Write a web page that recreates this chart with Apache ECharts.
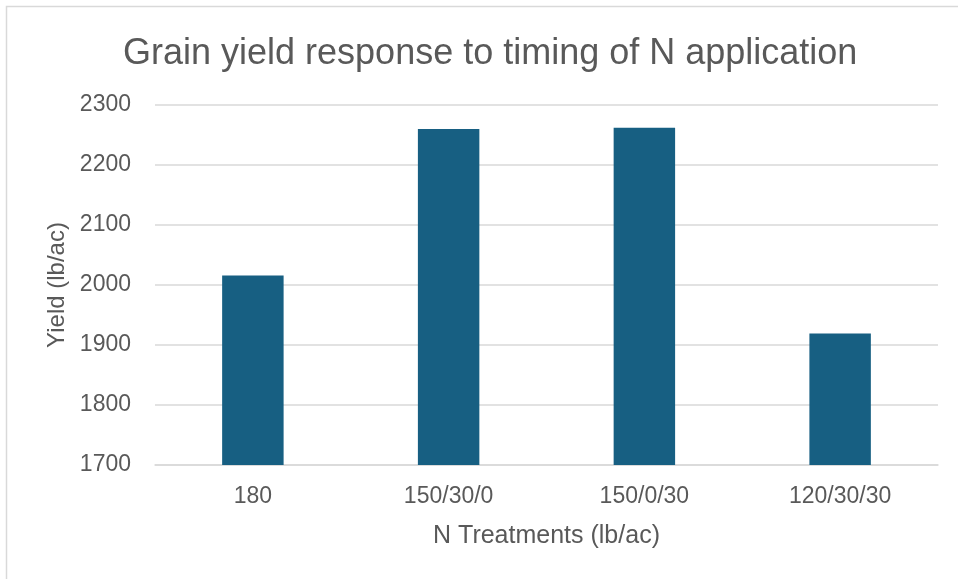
<!DOCTYPE html>
<html><head><meta charset="utf-8">
<script src="https://cdn.jsdelivr.net/npm/echarts@6/dist/echarts.min.js"></script>
<style>html,body{margin:0;padding:0;background:#fff}#c{width:958px;height:579px}</style>
</head><body><div id="c"></div>
<script>
const titleText = 'Grain yield response to timing of N application';
const categories = ['180', '150/30/0', '150/0/30', '120/30/30'];
const yieldValues = [2016, 2260, 2262, 1919];
const yTicks = {min: 1700, max: 2300, interval: 100};
const xAxisName = 'N Treatments (lb/ac)';
const yAxisName = 'Yield (lb/ac)';

const chart = echarts.init(document.getElementById('c'));
const txt = '#595959';
const font = "'Liberation Sans', Arial, sans-serif";
chart.setOption({
  animation: false,
  graphic: [{type: 'rect', shape: {x: 6.5, y: 6.5, width: 1000, height: 1000}, style: {fill: 'none', stroke: '#d9d9d9', lineWidth: 1.5}, silent: true}],
  title: {text: titleText, left: 118, top: 31, textStyle: {color: txt, fontSize: 36, fontWeight: 'normal', fontFamily: font}},
  grid: {left: 155, right: 20, top: 105, bottom: 114},
  xAxis: {
    type: 'category', data: categories,
    name: xAxisName, nameLocation: 'middle', nameGap: 59,
    nameTextStyle: {color: txt, fontSize: 25, fontFamily: font},
    axisLine: {lineStyle: {color: '#d9d9d9', width: 1.5}},
    axisTick: {show: false},
    axisLabel: {color: txt, fontSize: 23, fontFamily: font, margin: 20}
  },
  yAxis: {
    type: 'value', min: yTicks.min, max: yTicks.max, interval: yTicks.interval,
    name: yAxisName, nameLocation: 'middle', nameGap: 86,
    nameTextStyle: {color: txt, fontSize: 24, fontFamily: font},
    axisLine: {show: false}, axisTick: {show: false},
    splitLine: {lineStyle: {color: '#d9d9d9', width: 1.5}},
    axisLabel: {color: txt, fontSize: 23, fontFamily: font, margin: 24, formatter: v => String(v)}
  },
  series: [{type: 'bar', data: yieldValues, barWidth: '31.4%', itemStyle: {color: '#175f82'}}]
});
</script></body></html>
